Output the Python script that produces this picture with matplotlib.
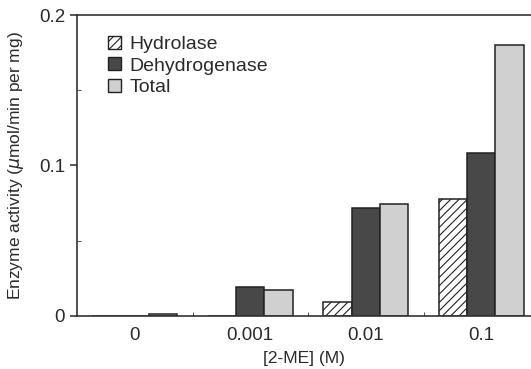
import matplotlib
matplotlib.use("Agg")
import matplotlib.pyplot as plt
import numpy as np
from matplotlib.patches import Patch

plt.rcParams['font.family'] = ['Liberation Sans', 'DejaVu Sans']
plt.rcParams['hatch.linewidth'] = 0.8

# data
concentrations = ['0', '0.001', '0.01', '0.1']
hydrolase = [0.0, 0.0, 0.0093, 0.0775]
dehydrogenase = [0.0, 0.0193, 0.072, 0.108]
total = [0.001, 0.0173, 0.0745, 0.180]

x = np.arange(len(concentrations))
width = 0.245

fig = plt.figure(figsize=(5.31, 3.69), dpi=100)
ax = fig.add_axes([0.145, 0.144, 0.855, 0.815])

ax.bar(x - width, hydrolase, width, color='white', edgecolor='#222222',
       hatch='////', linewidth=1.1)
ax.bar(x, dehydrogenase, width, color='#484848', edgecolor='#222222',
       linewidth=1.1)
ax.bar(x + width, total, width, color='#d0d0d0', edgecolor='#222222',
       linewidth=1.1)

ax.set_xlim(-0.5, 3.43)
ax.set_ylim(0, 0.2)
ax.set_xticks(x)
ax.set_xticklabels(concentrations)
ax.set_yticks([0, 0.1, 0.2])
ax.set_yticklabels(['0', '0.1', '0.2'])
ax.set_yticks([0.05, 0.15], minor=True)
ax.set_xticks([0.5, 1.5, 2.5], minor=True)
ax.tick_params(axis='x', which='major', length=0, labelsize=13.5, pad=8,
               colors='#2a2a2a')
ax.tick_params(axis='x', which='minor', length=3, direction='in',
               color='#333333')
ax.tick_params(axis='y', which='major', length=5, width=1.1, labelsize=13.5,
               colors='#2a2a2a')
ax.tick_params(axis='y', which='minor', length=3, direction='in',
               color='#333333')

for side in ['left', 'bottom', 'top']:
    ax.spines[side].set_linewidth(1.2)
    ax.spines[side].set_color('#333333')
ax.spines['right'].set_visible(False)

ax.set_xlabel('[2-ME] (M)', fontsize=12.5, color='#2a2a2a', labelpad=5)
ax.set_ylabel('Enzyme activity ($\\mu$mol/min per mg)', fontsize=12.5,
              color='#2a2a2a', labelpad=9)

handles = [
    Patch(facecolor='white', edgecolor='#222222', hatch='////',
          label='Hydrolase'),
    Patch(facecolor='#484848', edgecolor='#222222', label='Dehydrogenase'),
    Patch(facecolor='#d0d0d0', edgecolor='#222222', label='Total'),
]
ax.legend(handles=handles, loc='upper left', bbox_to_anchor=(0.03, 0.99),
          frameon=False, fontsize=14, handlelength=0.65, handleheight=0.65,
          handletextpad=0.45, labelspacing=0.22, labelcolor='#2a2a2a')

fig.savefig('out.png', dpi=100)
